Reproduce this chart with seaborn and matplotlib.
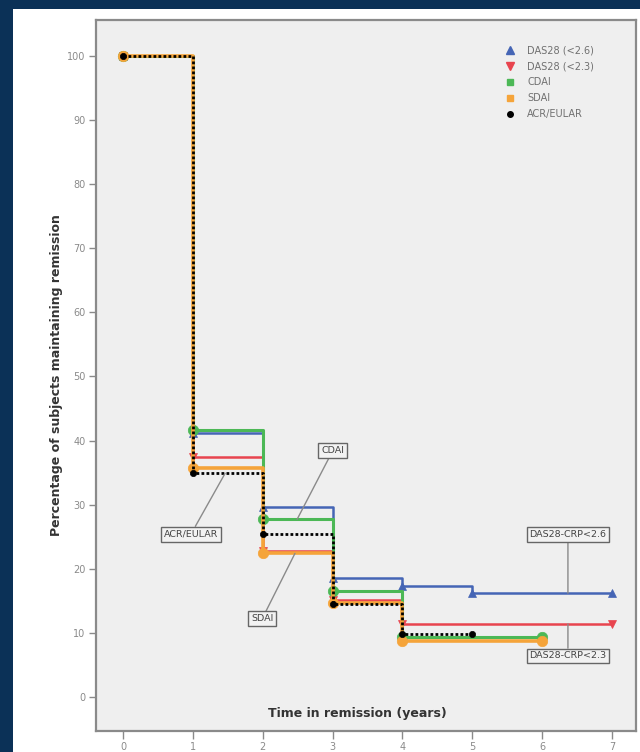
import matplotlib
matplotlib.use("Agg")
import matplotlib.pyplot as plt
from matplotlib.patches import Rectangle
from matplotlib.lines import Line2D
import seaborn as sns
import pandas as pd

# Kaplan-Meier style remission curves (percentage still in remission by year)
das26_t = [0, 1, 2, 3, 4, 5, 7]
das26_v = [100, 41.2, 29.6, 18.5, 17.3, 16.2, 16.2]

das23_t = [0, 1, 2, 3, 4, 7]
das23_v = [100, 37.5, 22.7, 15.2, 11.4, 11.4]

cdai_t = [0, 1, 2, 3, 4, 6]
cdai_v = [100, 41.6, 27.7, 16.5, 9.3, 9.3]

sdai_t = [0, 1, 2, 3, 4, 6]
sdai_v = [100, 35.8, 22.4, 14.7, 8.7, 8.7]

acr_t = [0, 1, 2, 3, 4, 5]
acr_v = [100, 34.9, 25.5, 14.5, 9.8, 9.8]

legend_labels = ["DAS28 (<2.6)", "DAS28 (<2.3)", "CDAI", "SDAI", "ACR/EULAR"]
x_ticks = [0, 1, 2, 3, 4, 5, 6, 7]
y_ticks = [0, 10, 20, 30, 40, 50, 60, 70, 80, 90, 100]

sns.set_style("ticks")
plt.rcParams["font.family"] = ["DejaVu Sans"]

fig = plt.figure(figsize=(6.4, 7.52), dpi=100)
fig.patch.set_facecolor("#0b3157")
fig.patches.append(Rectangle((13 / 640, 0), 1, (752 - 9) / 752,
                             transform=fig.transFigure, facecolor="white",
                             edgecolor="none", zorder=-10))

ax = fig.add_axes([96 / 640, (752 - 731) / 752, (636 - 96) / 640, (731 - 20) / 752])
ax.set_facecolor("#efefef")

blue, red, green, orange = "#4565b5", "#e8444e", "#4cb856", "#f5a43a"

series = [
    (das26_t, das26_v, blue, "^", 5.5, 1.8, "-"),
    (das23_t, das23_v, red, "v", 5.5, 1.8, "-"),
    (cdai_t, cdai_v, green, "o", 7.5, 2.2, "-"),
    (sdai_t, sdai_v, orange, "o", 7.5, 2.6, "-"),
    (acr_t, acr_v, "black", "o", 4.5, 2.0, (0, (1, 0.8))),
]
for i, (t, v, c, m, ms, lw, ls) in enumerate(series):
    df = pd.DataFrame({"t": t, "v": v})
    sns.lineplot(data=df, x="t", y="v", ax=ax, color=c, drawstyle="steps-post",
                 marker=m, markersize=ms, markerfacecolor=c, markeredgecolor=c,
                 markeredgewidth=0.5, linewidth=lw, linestyle=ls,
                 zorder=3 + i, legend=False)

ax.set_xlim(-0.39, 7.345)
ax.set_ylim(-5.3, 105.6)
ax.set_xticks(x_ticks)
ax.set_yticks(y_ticks)
ax.set_xticklabels([str(x) for x in x_ticks])
ax.set_yticklabels([str(y) for y in y_ticks])
ax.tick_params(axis="both", direction="out", colors="#8a8a8a", labelsize=7,
               width=1, length=5, pad=2.5)
ax.tick_params(axis="x", length=6, pad=2)
for s in ax.spines.values():
    s.set_color("#8a8a8a")
    s.set_linewidth(1.6)

ax.set_ylabel("Percentage of subjects maintaining remission", fontsize=9,
              fontweight="bold", color="#333333", labelpad=3)
ax.set_xlabel("")
ax.text(3.35, -2.5, "Time in remission (years)", fontsize=9, fontweight="bold",
        color="#333333", ha="center", va="center")

box = dict(boxstyle="square,pad=0.3", facecolor="#f2f2f2", edgecolor="#666666", lw=1)
arrow = dict(arrowstyle="-", color="#8a8a8a", lw=1, shrinkA=0, shrinkB=0)
notes = [
    ("CDAI", (3.0, 38.4), (2.49, 27.7)),
    ("ACR/EULAR", (0.97, 25.4), (1.46, 34.9)),
    ("SDAI", (1.99, 12.2), (2.46, 22.4)),
    ("DAS28-CRP<2.6", (6.37, 25.3), (6.37, 16.2)),
    ("DAS28-CRP<2.3", (6.37, 6.4), (6.37, 11.4)),
]
for label, xytext, xy in notes:
    ax.annotate(label, xy=xy, xytext=xytext, ha="center", va="center",
                fontsize=6.8, color="#444444", bbox=box, arrowprops=arrow,
                zorder=10)

handles = [
    Line2D([], [], color=blue, marker="^", linestyle="none", markersize=5.5),
    Line2D([], [], color=red, marker="v", linestyle="none", markersize=5.5),
    Line2D([], [], color=green, marker="s", linestyle="none", markersize=5),
    Line2D([], [], color=orange, marker="s", linestyle="none", markersize=5),
    Line2D([], [], color="black", marker="o", linestyle="none", markersize=4),
]
leg = ax.legend(handles, legend_labels, loc="upper left",
                bbox_to_anchor=(0.75, 0.97), frameon=False, fontsize=7,
                handlelength=1, handletextpad=1.3, labelspacing=0.62,
                borderaxespad=0)
for txt in leg.get_texts():
    txt.set_color("#707070")

fig.savefig("out.png", dpi=100, facecolor=fig.get_facecolor())
